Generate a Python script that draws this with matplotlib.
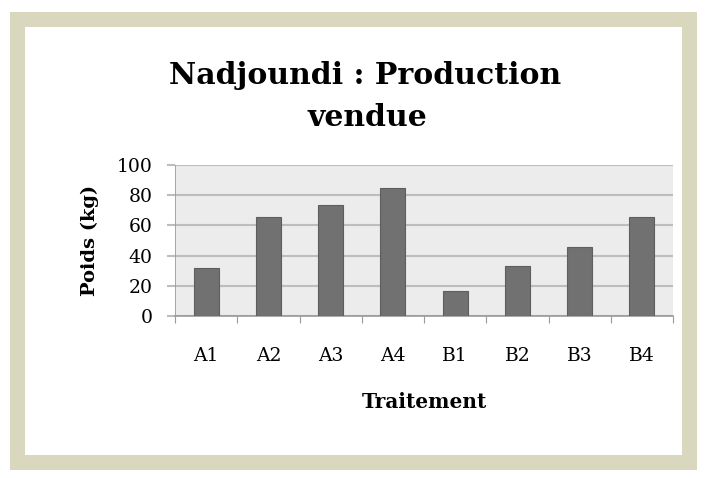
import matplotlib
matplotlib.use("Agg")
import matplotlib.pyplot as plt
from matplotlib.patches import Rectangle

categories = ["A1", "A2", "A3", "A4", "B1", "B2", "B3", "B4"]
values = [31.5, 65.7, 73.3, 85.0, 16.6, 33.2, 45.4, 65.5]
yticks = [0, 20, 40, 60, 80, 100]

plt.rcParams['font.family'] = ['DejaVu Serif']

W, H = 706, 478
fig = plt.figure(figsize=(W / 100, H / 100), dpi=100)
fig.patch.set_facecolor("white")

# beige frame
fig.patches.append(Rectangle((10 / W, 1 - 470 / H), 687 / W, 458 / H,
                             transform=fig.transFigure, facecolor="#d9d8bf",
                             edgecolor="none", zorder=-2))
fig.patches.append(Rectangle((25 / W, 1 - 455 / H), 657 / W, 428 / H,
                             transform=fig.transFigure, facecolor="white",
                             edgecolor="none", zorder=-1))

ax = fig.add_axes([175 / W, 1 - 316 / H, 498 / W, 151 / H])
ax.set_facecolor("#ececec")
x = list(range(len(categories)))
ax.bar(x, values, width=0.4, color="#717171", edgecolor="#5e5e5e", linewidth=0.8, zorder=3)
ax.set_xlim(-0.5, len(categories) - 0.5)
ax.set_ylim(0, 100)
ax.set_yticks(yticks)
ax.set_yticklabels([str(v) for v in yticks], fontsize=13.5)
ax.yaxis.grid(True, color="#bdbdbd", linewidth=1.5, zorder=1)
ax.set_axisbelow(True)
ax.set_xticks([i - 0.5 for i in range(len(categories) + 1)], minor=False)
ax.set_xticklabels([""] * (len(categories) + 1))
ax.set_xticks(x, minor=True)
ax.set_xticklabels(categories, minor=True, fontsize=13.5)
ax.tick_params(axis="x", which="minor", length=0, pad=22)
ax.tick_params(axis="x", which="major", length=5, color="#9a9a9a", direction="out")
ax.tick_params(axis="y", length=6, color="#bdbdbd", width=1.5, pad=10)
for s in ["top", "right", "left"]:
    ax.spines[s].set_visible(False)
ax.spines["bottom"].set_color("#9a9a9a")
ax.spines["bottom"].set_linewidth(1.2)
ax.axvline(-0.5, color="#9a9a9a", linewidth=1.2, zorder=2)

ax.set_xlabel("Traitement", fontsize=14.5, fontweight="bold", labelpad=20)
ax.set_ylabel("Poids (kg)", fontsize=14, fontweight="bold", labelpad=13)

fig.text(365 / W, 1 - 75 / H, "Nadjoundi : Production", ha="center", va="center",
         fontsize=21.5, fontweight="bold")
fig.text(367 / W, 1 - 118 / H, "vendue", ha="center", va="center",
         fontsize=21.5, fontweight="bold")

fig.savefig("out.png", dpi=100)
